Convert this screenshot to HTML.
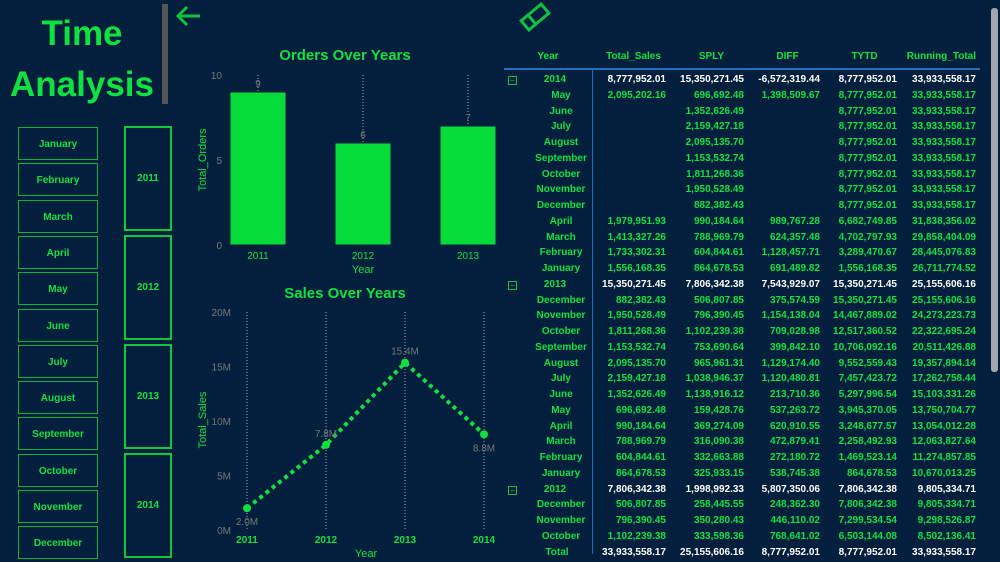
<!DOCTYPE html>
<html><head><meta charset="utf-8">
<style>
body{margin:0;width:1000px;height:562px;background:#02203d;overflow:hidden;position:relative;font-family:"Liberation Sans",sans-serif;}
.abs{position:absolute}
.btn{position:absolute;left:18px;width:80px;height:33px;border:1px solid #0bb23a;color:#10e040;font-size:10px;font-weight:bold;display:flex;align-items:center;justify-content:center;box-sizing:border-box;padding-top:2px}
.yr{position:absolute;left:124px;width:48px;border:2px solid #0bc83c;color:#10e040;font-size:10px;font-weight:bold;display:flex;align-items:center;justify-content:center;box-sizing:border-box}
.cell{position:absolute;font-size:10px;font-weight:bold;white-space:nowrap;line-height:12px}
</style></head><body>
<div class="abs" style="left:0;top:8px;width:164px;text-align:center;color:#10e040;font-size:35px;font-weight:bold;line-height:51px">Time<br>Analysis</div>
<div class="abs" style="left:162px;top:4px;width:6px;height:100px;background:#555"></div>
<svg class="abs" style="left:174px;top:4px" width="30" height="24"><path d="M26 12H4M13 3L4 12L13 21" stroke="#10c040" stroke-width="3" fill="none"/></svg>
<svg class="abs" style="left:518px;top:2px" width="34" height="30"><g transform="rotate(-40 17 15)"><rect x="4" y="9" width="26" height="12" fill="none" stroke="#10c040" stroke-width="3"/><line x1="13" y1="9" x2="13" y2="21" stroke="#10c040" stroke-width="3"/></g></svg>
<div id="slicers"></div>
<svg id="bar" class="abs" style="left:0;top:0" width="1000" height="562"></svg>
<div id="tbl"></div>
<div class="abs" style="left:991px;top:8px;width:7px;height:364px;background:#c8c8c8;border-radius:3px;opacity:.8"></div>
<script>
const months=["January","February","March","April","May","June","July","August","September","October","November","December"];
const years=["2011","2012","2013","2014"];
const orderYears=["2011","2012","2013"];
const orderValues=[9,6,7];
const orderTicks=[0,5,10];
const salesYears=["2011","2012","2013","2014"];
const salesValues=[1998992.33,7806342.38,15350271.45,8777952.01];
const salesLabels=["2.0M","7.8M","15.4M","8.8M"];
const salesTicks=[0,5,10,15,20];
const tableCols=["Year","Total_Sales","SPLY","DIFF","TYTD","Running_Total"];
const tableRows=[
["2014","8,777,952.01","15,350,271.45","-6,572,319.44","8,777,952.01","33,933,558.17",1],
["May","2,095,202.16","696,692.48","1,398,509.67","8,777,952.01","33,933,558.17"],
["June","","1,352,626.49","","8,777,952.01","33,933,558.17"],
["July","","2,159,427.18","","8,777,952.01","33,933,558.17"],
["August","","2,095,135.70","","8,777,952.01","33,933,558.17"],
["September","","1,153,532.74","","8,777,952.01","33,933,558.17"],
["October","","1,811,268.36","","8,777,952.01","33,933,558.17"],
["November","","1,950,528.49","","8,777,952.01","33,933,558.17"],
["December","","882,382.43","","8,777,952.01","33,933,558.17"],
["April","1,979,951.93","990,184.64","989,767.28","6,682,749.85","31,838,356.02"],
["March","1,413,327.26","788,969.79","624,357.48","4,702,797.93","29,858,404.09"],
["February","1,733,302.31","604,844.61","1,128,457.71","3,289,470.67","28,445,076.83"],
["January","1,556,168.35","864,678.53","691,489.82","1,556,168.35","26,711,774.52"],
["2013","15,350,271.45","7,806,342.38","7,543,929.07","15,350,271.45","25,155,606.16",1],
["December","882,382.43","506,807.85","375,574.59","15,350,271.45","25,155,606.16"],
["November","1,950,528.49","796,390.45","1,154,138.04","14,467,889.02","24,273,223.73"],
["October","1,811,268.36","1,102,239.38","709,028.98","12,517,360.52","22,322,695.24"],
["September","1,153,532.74","753,690.64","399,842.10","10,706,092.16","20,511,426.88"],
["August","2,095,135.70","965,961.31","1,129,174.40","9,552,559.43","19,357,894.14"],
["July","2,159,427.18","1,038,946.37","1,120,480.81","7,457,423.72","17,262,758.44"],
["June","1,352,626.49","1,138,916.12","213,710.36","5,297,996.54","15,103,331.26"],
["May","696,692.48","159,428.76","537,263.72","3,945,370.05","13,750,704.77"],
["April","990,184.64","369,274.09","620,910.55","3,248,677.57","13,054,012.28"],
["March","788,969.79","316,090.38","472,879.41","2,258,492.93","12,063,827.64"],
["February","604,844.61","332,663.88","272,180.72","1,469,523.14","11,274,857.85"],
["January","864,678.53","325,933.15","538,745.38","864,678.53","10,670,013.25"],
["2012","7,806,342.38","1,998,992.33","5,807,350.06","7,806,342.38","9,805,334.71",1],
["December","506,807.85","258,445.55","248,362.30","7,806,342.38","9,805,334.71"],
["November","796,390.45","350,280.43","446,110.02","7,299,534.54","9,298,526.87"],
["October","1,102,239.38","333,598.36","768,641.02","6,503,144.08","8,502,136.41"]
];
const totalRow=["Total","33,933,558.17","25,155,606.16","8,777,952.01","8,777,952.01","33,933,558.17"];

const sl=document.getElementById('slicers');
months.forEach((m,i)=>{const d=document.createElement('div');d.className='btn';d.style.top=(127+i*36.3)+'px';d.textContent=m;


sl.appendChild(d);});
years.forEach((y,i)=>{const d=document.createElement('div');d.className='yr';d.style.top=(126+i*109)+'px';d.style.height='105px';d.textContent=y;


sl.appendChild(d);});

const NS='http://www.w3.org/2000/svg';const svg=document.getElementById('bar');
function el(t,a,txt){const e=document.createElementNS(NS,t);for(const k in a)e.setAttribute(k,a[k]);if(txt!==undefined)e.textContent=txt;svg.appendChild(e);return e;}
const bx=i=>258+i*105, by=v=>245-v*17;
let t=el('text',{x:345,y:60,'text-anchor':'middle',fill:'#10e040','font-size':15,'font-weight':'bold'},'Orders Over Years');

orderTicks.forEach(v=>{const e=el('text',{x:222,y:by(v)+4,'text-anchor':'end',fill:'#777','font-size':10},v);
});
orderYears.forEach((y,i)=>{
const g=el('line',{x1:bx(i),x2:bx(i),y1:by(10),y2:245,stroke:'#aaa','stroke-dasharray':'1 2'});

const r=el('rect',{x:bx(i)-28,y:by(orderValues[i]),width:56,height:245-by(orderValues[i]),fill:'#05dc3a',stroke:'#02203d','stroke-width':1});

const l=el('text',{x:bx(i),y:by(orderValues[i])-5,'text-anchor':'middle',fill:'#777','font-size':10},orderValues[i]);

const x=el('text',{x:bx(i),y:259,'text-anchor':'middle',fill:'#10e040','font-size':10},y);
});
t=el('text',{x:363,y:273,'text-anchor':'middle',fill:'#10e040','font-size':11},'Year');
t=el('text',{x:0,y:0,transform:'translate(206,160) rotate(-90)','text-anchor':'middle',fill:'#10e040','font-size':11},'Total_Orders');
const sx=i=>247+i*79, sy=v=>530-v/20e6*218;
t=el('text',{x:345,y:298,'text-anchor':'middle',fill:'#10e040','font-size':15,'font-weight':'bold'},'Sales Over Years');
salesTicks.forEach(v=>{const e=el('text',{x:231,y:sy(v*1e6)+4,'text-anchor':'end',fill:'#777','font-size':10},v+'M');
});
salesYears.forEach((y,i)=>{const g=el('line',{x1:sx(i),x2:sx(i),y1:312,y2:530,stroke:'#aaa','stroke-dasharray':'1 2'});

const x=el('text',{x:sx(i),y:543,'text-anchor':'middle',fill:'#10e040','font-size':10,'font-weight':'bold'},y);
});
const pts=salesValues.map((v,i)=>sx(i)+','+sy(v)).join(' ');
t=el('polyline',{points:pts,fill:'none',stroke:'#10e040','stroke-width':4,'stroke-dasharray':'4 4'});
salesValues.forEach((v,i)=>{const c=el('circle',{cx:sx(i),cy:sy(v),r:4,fill:'#10e040'});

const below=(i==0||i==3);
const l=el('text',{x:sx(i),y:below?sy(v)+17:sy(v)-8,'text-anchor':'middle',fill:'#777','font-size':10},salesLabels[i]);
});
t=el('text',{x:366,y:557,'text-anchor':'middle',fill:'#10e040','font-size':11},'Year');
t=el('text',{x:0,y:0,transform:'translate(206,420) rotate(-90)','text-anchor':'middle',fill:'#10e040','font-size':11},'Total_Sales');

const tb=document.getElementById('tbl');
const rights=[0,666,744,820,897,976];
function cell(txt,x,y,color,right,center){const d=document.createElement('div');d.className='cell';d.style.top=y+'px';d.style.color=color;d.textContent=txt;
if(center){d.style.left=(x-60)+'px';d.style.width='120px';d.style.textAlign='center';}else{d.style.right=(1000-x)+'px';}


tb.appendChild(d);return d;}
tableCols.forEach((c,i)=>{const d=cell(c,i==0?548:rights[i],51,'#10e040',true,i==0);
if(i>0&&i<5){d.style.right='';d.style.left=(rights[i]-70)+'px';d.style.width='75px';d.style.textAlign='center';}
});
const ln=document.createElement('div');ln.className='abs';ln.style.cssText='left:504px;top:68px;width:476px;height:2px;background:#1f6fc0';


tb.appendChild(ln);
const vl=document.createElement('div');vl.className='abs';vl.style.cssText='left:592px;top:70px;width:1px;height:484px;background:#1f6fc0';


tb.appendChild(vl);
tableRows.forEach((r,i)=>{const y=74+i*15.75;const yr=r[6]===1;
if(yr){const b=document.createElement('div');b.className='abs';b.style.cssText='left:508px;top:'+(y+2)+'px;width:7px;height:7px;border:1px solid #10c040;font-size:8px;line-height:7px;color:#10c040;text-align:center';b.textContent='−';


tb.appendChild(b);}
cell(r[0],yr?555:561,y,'#10e040',false,true);
for(let k=1;k<6;k++)if(r[k])cell(r[k],rights[k],y,yr?'#fff':'#10e040',true,false);});
const ty=547;cell(totalRow[0],557,ty,'#10e040',false,true);
for(let k=1;k<6;k++)cell(totalRow[k],rights[k],ty,'#fff',true,false);
</script>
</body></html>
